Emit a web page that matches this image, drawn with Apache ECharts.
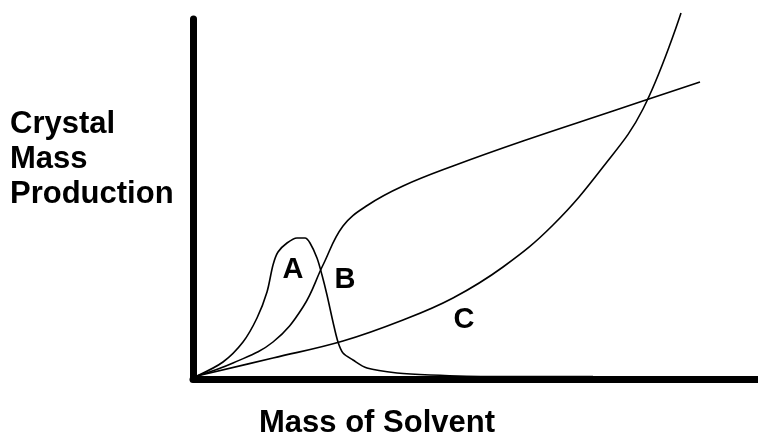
<!DOCTYPE html>
<html>
<head>
<meta charset="utf-8">
<script src="https://cdn.jsdelivr.net/npm/echarts@6/dist/echarts.min.js"></script>
<style>
  html, body { margin: 0; padding: 0; background: #fff; }
  #chart { width: 758px; height: 438px; }
</style>
</head>
<body>
<div id="chart"></div>
<script>
// curves, x = mass of solvent, y = crystal mass (arbitrary units)
const curveA = [[4,3],[30,17],[50,37],[64,61],[74,87],[80,114],[85,127],[94,136],[104,141],[112,141],[117,136],[124,121],[129,104],[134,84],[140,57],[145,37],[150,26],[160,19],[174,11],[204,6],[237,4],[300,2.5],[400,2.5]];
const curveB = [[4,3],[40,16],[80,37],[110,72],[130,114],[150,153],[175,174],[210,193],[260,213],[330,238],[420,268],[507,297]];
const curveC = [[4,3],[80,21],[150,38],[210,59],[260,81],[310,112],[360,154],[410,212],[450,270],[488,366]];
const curveNames = ['A', 'B', 'C'];
const labelPoints = [[100,109],[152,99],[271,59]];

const chart = echarts.init(document.getElementById('chart'));

const lineStyle = { color: '#000', width: 1.6 };
const font = '"Liberation Sans", Arial, sans-serif';

chart.setOption({
    animation: false,
    backgroundColor: '#fff',
    grid: { left: 193, right: 0, top: 19, bottom: 59, outerBoundsMode: 'none', containLabel: false },
    xAxis: {
        type: 'value',
        min: 0,
        max: 565,
        axisLine: { lineStyle: { color: '#000', width: 7 } },
        axisTick: { show: false },
        axisLabel: { show: false },
        splitLine: { show: false }
    },
    yAxis: {
        type: 'value',
        min: 0,
        max: 360,
        axisLine: { show: true, lineStyle: { color: '#000', width: 7 } },
        axisTick: { show: false },
        axisLabel: { show: false },
        splitLine: { show: false }
    },
    graphic: [{
        type: 'text',
        left: 10,
        top: 107,
        style: {
            text: 'Crystal\nMass\nProduction',
            fill: '#000',
            font: 'bold 31px ' + font,
            lineHeight: 35
        }
    }, {
        type: 'text',
        left: 259,
        top: 408,
        style: {
            text: 'Mass of Solvent',
            fill: '#000',
            font: 'bold 31px ' + font
        }
    }],
    series: [
        { type: 'line', data: curveA, smooth: 0.3, symbol: 'none', lineStyle, clip: false, z: 1 },
        { type: 'line', data: curveB, smooth: 0.4, symbol: 'none', lineStyle, clip: false, z: 1 },
        { type: 'line', data: curveC, smooth: 0.4, symbol: 'none', lineStyle, clip: false, z: 1 },
        {
            type: 'scatter',
            symbolSize: 0,
            itemStyle: { opacity: 1 },
            data: labelPoints.map((p, i) => ({ value: p, name: curveNames[i] })),
            label: {
                show: true,
                position: 'inside',
                formatter: '{b}',
                color: '#000',
                fontSize: 29,
                fontWeight: 'bold',
                fontFamily: font
            }
        }
    ]
});
</script>
</body>
</html>
